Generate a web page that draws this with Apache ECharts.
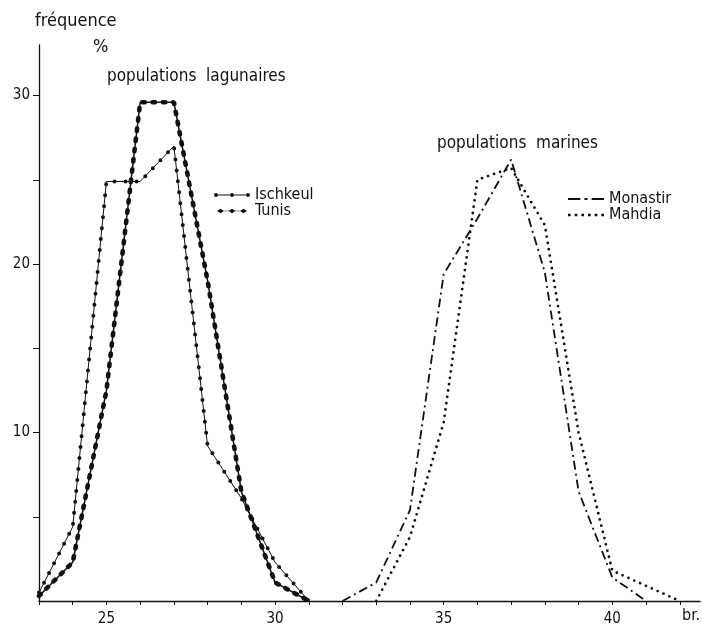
<!DOCTYPE html>
<html>
<head>
<meta charset="utf-8">
<script src="https://cdn.jsdelivr.net/npm/echarts@6/dist/echarts.min.js"></script>
<style>
  html, body { margin: 0; background: #fff; }
  #chart { width: 702px; height: 630px; }
</style>
</head>
<body>
<div id="chart"></div>
<script>
var FONT = '"Liberation Sans Narrow", "DejaVu Sans Condensed", "Liberation Sans", sans-serif';
var INK = '#111';

// branchiospines (br.) classes, frequency in %
var lagoonX = [23, 24, 25, 26, 27, 28, 29, 30, 31];
var ischkeul = [0.5, 4.4, 24.9, 24.9, 27.0, 9.2, 6.1, 2.3, 0];
var tunis = [0.3, 2.3, 12.5, 29.6, 29.6, 19.0, 6.5, 1.1, 0];

var monastirX = [32, 33, 34, 35, 36, 37, 38, 39, 40, 41];
var monastir = [0, 1.1, 5.4, 19.4, 22.7, 26.2, 19.5, 6.5, 1.4, 0];

var mahdiaX = [33, 34, 35, 36, 37, 38, 39, 40, 41, 42];
var mahdia = [0, 3.8, 10.6, 25.0, 25.7, 22.3, 10.0, 1.8, 0.9, 0];

var xTicks = [23, 24, 25, 26, 27, 28, 29, 30, 31, 32, 33, 34, 35, 36, 37, 38, 39, 40, 41, 42];
var xLabels = [25, 30, 35, 40];
var yTicks = [5, 10, 15, 20, 25, 30];
var yLabels = [10, 20, 30];

function pairs(xs, ys) {
  return xs.map(function(x, i) { return [x, ys[i]]; });
}

// legend icons drawn as small paths (pieces kept apart so fill has no holes)
function circle(cx, cy, r) {
  return 'M' + (cx - r) + ',' + cy + 'a' + r + ',' + r + ' 0 1,0 ' + (2 * r) + ',0a' + r + ',' + r + ' 0 1,0 ' + (-2 * r) + ',0z';
}
function diamond(cx, cy, hl, hw) {
  return 'M' + (cx - hl) + ',' + cy + 'L' + cx + ',' + (cy - hw) + 'L' + (cx + hl) + ',' + cy + 'L' + cx + ',' + (cy + hw) + 'z';
}
var iconIschkeul = 'path://M3.9,1.5h12.2v1H3.9z M19.9,1.5h12.2v1H19.9z' + circle(2, 2, 2) + circle(18, 2, 2) + circle(34, 2, 2);
var iconTunis = 'path://M6.9,1.9h4.7v0.6H6.9z M18.4,1.9h4.7v0.6H18.4z' + diamond(3.5, 2.2, 3.5, 2.2) + diamond(15, 2.2, 3.5, 2.2) + diamond(26.5, 2.2, 3.5, 2.2);
var iconMonastir = 'path://M0,0h12v1.8H0z M16,0h3v1.8h-3z M23,0h12v1.8h-12z';
var iconMahdia = 'path://M0,0h2.5v2.5H0z M6.2,0h2.5v2.5h-2.5z M12.4,0h2.5v2.5h-2.5z M18.6,0h2.5v2.5h-2.5z M24.8,0h2.5v2.5h-2.5z M31,0h2.5v2.5h-2.5z';

var chart = echarts.init(document.getElementById('chart'));

function lineSeries(name, data, style, z) {
  return {
    name: name,
    type: 'line',
    data: data,
    symbol: 'none',
    smooth: false,
    z: z || 2,
    color: INK,
    lineStyle: Object.assign({ color: INK }, style),
    emphasis: { disabled: true }
  };
}

chart.setOption({
  animation: false,
  backgroundColor: '#fff',
  grid: { left: 39, right: 2, top: 45, bottom: 29 },
  xAxis: {
    type: 'value',
    min: 23,
    max: 42.6,
    axisLine: { lineStyle: { color: INK, width: 1.3 } },
    axisTick: { customValues: xTicks, length: 4, lineStyle: { color: INK } },
    axisLabel: { customValues: xLabels, color: INK, fontFamily: FONT, fontSize: 15, margin: 11 },
    splitLine: { show: false }
  },
  yAxis: {
    type: 'value',
    min: 0,
    max: 33,
    axisLine: { show: true, lineStyle: { color: INK, width: 1.3 } },
    axisTick: { show: true, customValues: yTicks, length: 6, lineStyle: { color: INK } },
    axisLabel: { customValues: yLabels, color: INK, fontFamily: FONT, fontSize: 15, margin: 9 },
    splitLine: { show: false }
  },
  legend: [{
    orient: 'vertical',
    left: 209,
    top: 182,
    itemWidth: 36,
    itemHeight: 4.4,
    itemGap: 0,
    symbolKeepAspect: true,
    selectedMode: false,
    textStyle: { color: INK, fontFamily: FONT, fontSize: 16, lineHeight: 15 },
    data: [
      { name: 'Ischkeul', icon: iconIschkeul },
      { name: 'Tunis', icon: iconTunis }
    ]
  }, {
    orient: 'vertical',
    left: 563,
    top: 186,
    itemWidth: 36,
    itemHeight: 4.4,
    itemGap: 0,
    symbolKeepAspect: true,
    selectedMode: false,
    textStyle: { color: INK, fontFamily: FONT, fontSize: 16, lineHeight: 14 },
    data: [
      { name: 'Monastir', icon: iconMonastir },
      { name: 'Mahdia', icon: iconMahdia }
    ]
  }],
  graphic: [
    { type: 'text', left: 35, top: 12, style: { text: 'fréquence', font: '18px ' + FONT, fill: INK } },
    { type: 'text', left: 93, top: 38, style: { text: '%', font: '18px ' + FONT, fill: INK } },
    { type: 'text', left: 107, top: 68, style: { text: 'populations  lagunaires', font: '17px ' + FONT, fill: INK } },
    { type: 'text', left: 437, top: 135, style: { text: 'populations  marines', font: '17px ' + FONT, fill: INK } },
    { type: 'text', left: 682, top: 608, style: { text: 'br.', font: '16px ' + FONT, fill: INK } }
  ],
  series: [
    lineSeries('Ischkeul', pairs(lagoonX, ischkeul), { width: 1 }, 2),
    lineSeries('Ischkeul', pairs(lagoonX, ischkeul), { width: 4, type: [0, 11], cap: 'round' }, 3),
    lineSeries('Tunis', pairs(lagoonX, tunis), { width: 1.5 }, 2),
    lineSeries('Tunis', pairs(lagoonX, tunis), { width: 4.6, type: [2.5, 7.8], cap: 'round' }, 3),
    lineSeries('Monastir', pairs(monastirX, monastir), { width: 1.8, type: [9, 4, 2, 4] }, 2),
    lineSeries('Mahdia', pairs(mahdiaX, mahdia), { width: 2.8, type: [0, 6.4], cap: 'round' }, 2)
  ]
});

window.addEventListener('resize', function() { chart.resize(); });
</script>
</body>
</html>
